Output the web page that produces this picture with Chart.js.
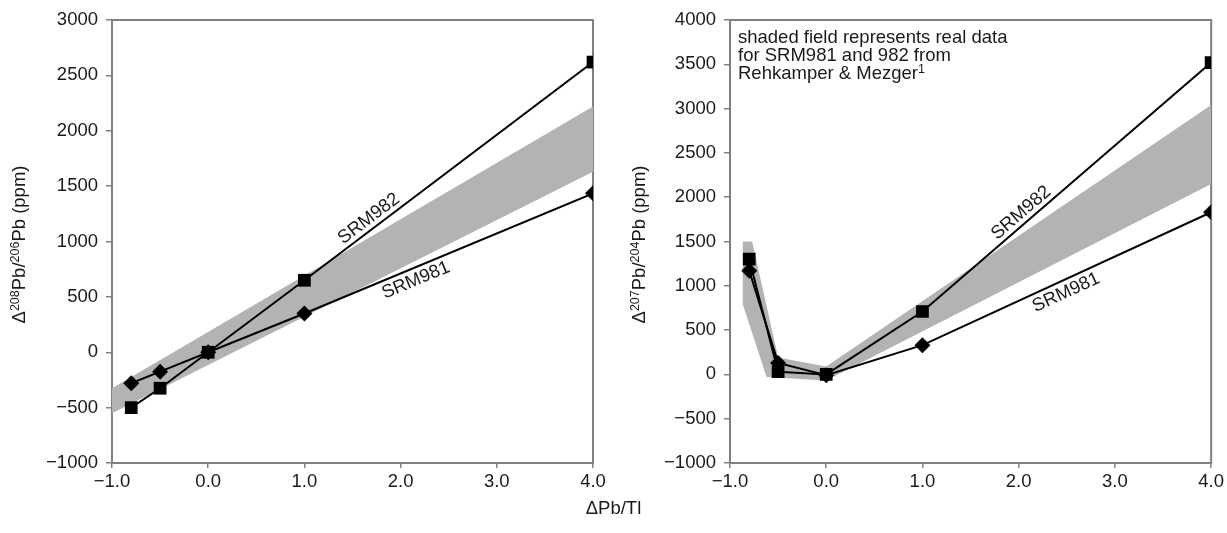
<!DOCTYPE html>
<html>
<head>
<meta charset="utf-8">
<script src="https://cdn.jsdelivr.net/npm/chart.js@4.4.1/dist/chart.umd.min.js"></script>
<style>
  body { margin:0; background:#fff; width:1227px; height:533px; position:relative; overflow:hidden; font-family:"Liberation Sans", Arial, sans-serif; }
  .box { position:absolute; top:0; }
  #xtitle { position:absolute; top:497px; left:0; width:1227px; text-align:center; font-size:18.5px; color:#1a1a1a; }
</style>
</head>
<body>
<div class="box" style="left:0"><canvas id="chartLeft" width="613" height="500"></canvas></div>
<div class="box" style="left:613px"><canvas id="chartRight" width="614" height="500"></canvas></div>
<div id="xtitle">ΔPb/Tl</div>
<script>
// measured points (ΔPb/Tl)
var xVals = [-0.8, -0.5, 0, 1, 4];

// left panel: Δ208Pb/206Pb (ppm)
var left982 = [-500, -325, 0, 650, 2620];
var left981 = [-280, -175, 0, 350, 1435];
var leftBandX = [-1, 4];
var leftBandHi = [-325, 2220];
var leftBandLo = [-550, 1630];

// right panel: Δ207Pb/204Pb (ppm)
var right982 = [1300, 30, 0, 710, 3520];
var right981 = [1170, 130, -10, 330, 1830];
var rightBandHiX = [-0.87, -0.77, -0.5, 0, 4];
var rightBandHi = [1500, 1500, 190, 90, 3040];
var rightBandLoX = [-0.87, -0.62, 0, 4];
var rightBandLo = [800, -30, -70, 2150];

var xTicks = [-1, 0, 1, 2, 3, 4];
var note = ["shaded field represents real data", "for SRM981 and 982 from", "Rehkamper & Mezger"];

var BAND = "#b3b3b3";
var AXIS = "#808080";
var INK = "#1a1a1a";
var FONT = "'Liberation Sans', Arial, sans-serif";

Chart.defaults.font.family = FONT;
Chart.defaults.font.size = 18.5;
Chart.defaults.color = INK;

function xy(xs, ys) {
  return xs.map(function (x, i) { return { x: x, y: ys[i] }; });
}

function minus(v) {
  return v < 0 ? "\u2212" + Math.abs(v) : String(v);
}

// draw text runs, some raised as superscripts; returns total width
function drawRuns(ctx, runs, x, y, measureOnly) {
  var w = 0;
  runs.forEach(function (r) {
    ctx.font = (r[1] ? "12.5px " : "18.5px ") + FONT;
    if (!measureOnly) ctx.fillText(r[0], x + w, r[1] ? y - 4.5 : y);
    w += ctx.measureText(r[0]).width;
  });
  return w;
}

var framePlugin = {
  id: "frame",
  beforeDatasetsDraw: function (chart) {
    var a = chart.chartArea, ctx = chart.ctx;
    ctx.save();
    ctx.strokeStyle = AXIS;
    ctx.lineWidth = 2;
    ctx.strokeRect(a.left, a.top, a.right - a.left, a.bottom - a.top);
    ctx.restore();
  }
};

function yTitlePlugin(runs, cx) {
  return {
    id: "yTitle",
    afterDraw: function (chart) {
      var a = chart.chartArea, ctx = chart.ctx;
      ctx.save();
      ctx.fillStyle = INK;
      ctx.textBaseline = "middle";
      ctx.translate(cx, (a.top + a.bottom) / 2 + 3);
      ctx.rotate(-Math.PI / 2);
      var w = drawRuns(ctx, runs, 0, 0, true);
      drawRuns(ctx, runs, -w / 2, 0, false);
      ctx.restore();
    }
  };
}

// rotated series labels along the last segment
function labelPlugin(labels) {
  return {
    id: "lineLabels",
    afterDatasetsDraw: function (chart) {
      var ctx = chart.ctx;
      labels.forEach(function (l) {
        var pts = chart.getDatasetMeta(l.ds).data;
        var p1 = pts[3], p2 = pts[4];
        var ang = Math.atan2(p2.y - p1.y, p2.x - p1.x);
        var px = p1.x + (p2.x - p1.x) * l.t;
        var py = p1.y + (p2.y - p1.y) * l.t;
        ctx.save();
        ctx.translate(px, py);
        ctx.rotate(ang);
        ctx.font = "18.5px " + FONT;
        ctx.fillStyle = INK;
        ctx.textAlign = "center";
        ctx.textBaseline = l.above ? "bottom" : "top";
        ctx.fillText(l.text, 0, l.above ? -1 : 3);
        ctx.restore();
      });
    }
  };
}

var notePlugin = {
  id: "note",
  afterDraw: function (chart) {
    var a = chart.chartArea, ctx = chart.ctx;
    ctx.save();
    ctx.fillStyle = INK;
    ctx.textBaseline = "middle";
    note.forEach(function (line, i) {
      var runs = [[line, false]];
      if (i === note.length - 1) runs.push(["1", true]);
      drawRuns(ctx, runs, a.left + 8, a.top + 18 + i * 18, false);
    });
    ctx.restore();
  }
};

function makeChart(id, d982, d981, bhx, bh, blx, bl, ymax, yWidth, padRight, extra) {
  return new Chart(document.getElementById(id), {
    type: "line",
    data: {
      datasets: [
        { data: xy(bhx, bh), borderWidth: 0, pointRadius: 0, fill: "+1", backgroundColor: BAND, order: 5, tension: 0 },
        { data: xy(blx, bl), borderWidth: 0, pointRadius: 0, fill: false, order: 5, tension: 0 },
        { data: xy(xVals, d982), borderColor: "#000", borderWidth: 2, pointStyle: "rect", pointRadius: 9,
          pointBackgroundColor: "#000", pointBorderWidth: 0, fill: false, order: 1, tension: 0 },
        { data: xy(xVals, d981), borderColor: "#000", borderWidth: 2, pointStyle: "rectRot", pointRadius: 8,
          pointBackgroundColor: "#000", pointBorderWidth: 0, fill: false, order: 0, tension: 0 }
      ]
    },
    options: {
      responsive: false,
      animation: false,
      layout: { padding: { top: 20, right: padRight, left: 0, bottom: 0 } },
      plugins: { legend: { display: false }, tooltip: { enabled: false } },
      scales: {
        x: {
          type: "linear", min: -1, max: 4,
          afterBuildTicks: function (s) { s.ticks = xTicks.map(function (v) { return { value: v }; }); },
          ticks: { padding: 3, maxRotation: 0, callback: function (v) { return (v < 0 ? "\u2212" : "") + Math.abs(v).toFixed(1); } },
          grid: { drawOnChartArea: false, tickLength: 5, color: AXIS, lineWidth: 1.5 },
          border: { display: false },
          afterFit: function (s) { s.height = 37; }
        },
        y: {
          min: -1000, max: ymax,
          ticks: { stepSize: 500, padding: 8, callback: minus },
          grid: { drawOnChartArea: false, tickLength: 6, color: AXIS, lineWidth: 1.5 },
          border: { display: false },
          afterFit: function (s) { s.width = yWidth; }
        }
      }
    },
    plugins: [framePlugin].concat(extra)
  });
}

makeChart("chartLeft", left982, left981, leftBandX, leftBandHi, leftBandX, leftBandLo, 3000, 112, 20, [
  yTitlePlugin([["\u0394", false], ["208", true], ["Pb/", false], ["206", true], ["Pb (ppm)", false]], 20),
  labelPlugin([
    { ds: 2, t: 0.245, text: "SRM982", above: true },
    { ds: 3, t: 0.37, text: "SRM981", above: false }
  ])]);

makeChart("chartRight", right982, right981, rightBandHiX, rightBandHi, rightBandLoX, rightBandLo, 4000, 117, 15, [
  yTitlePlugin([["\u0394", false], ["207", true], ["Pb/", false], ["204", true], ["Pb (ppm)", false]], 27),
  labelPlugin([
    { ds: 2, t: 0.365, text: "SRM982", above: true },
    { ds: 3, t: 0.48, text: "SRM981", above: false }
  ]), notePlugin]);
</script>
</body>
</html>
